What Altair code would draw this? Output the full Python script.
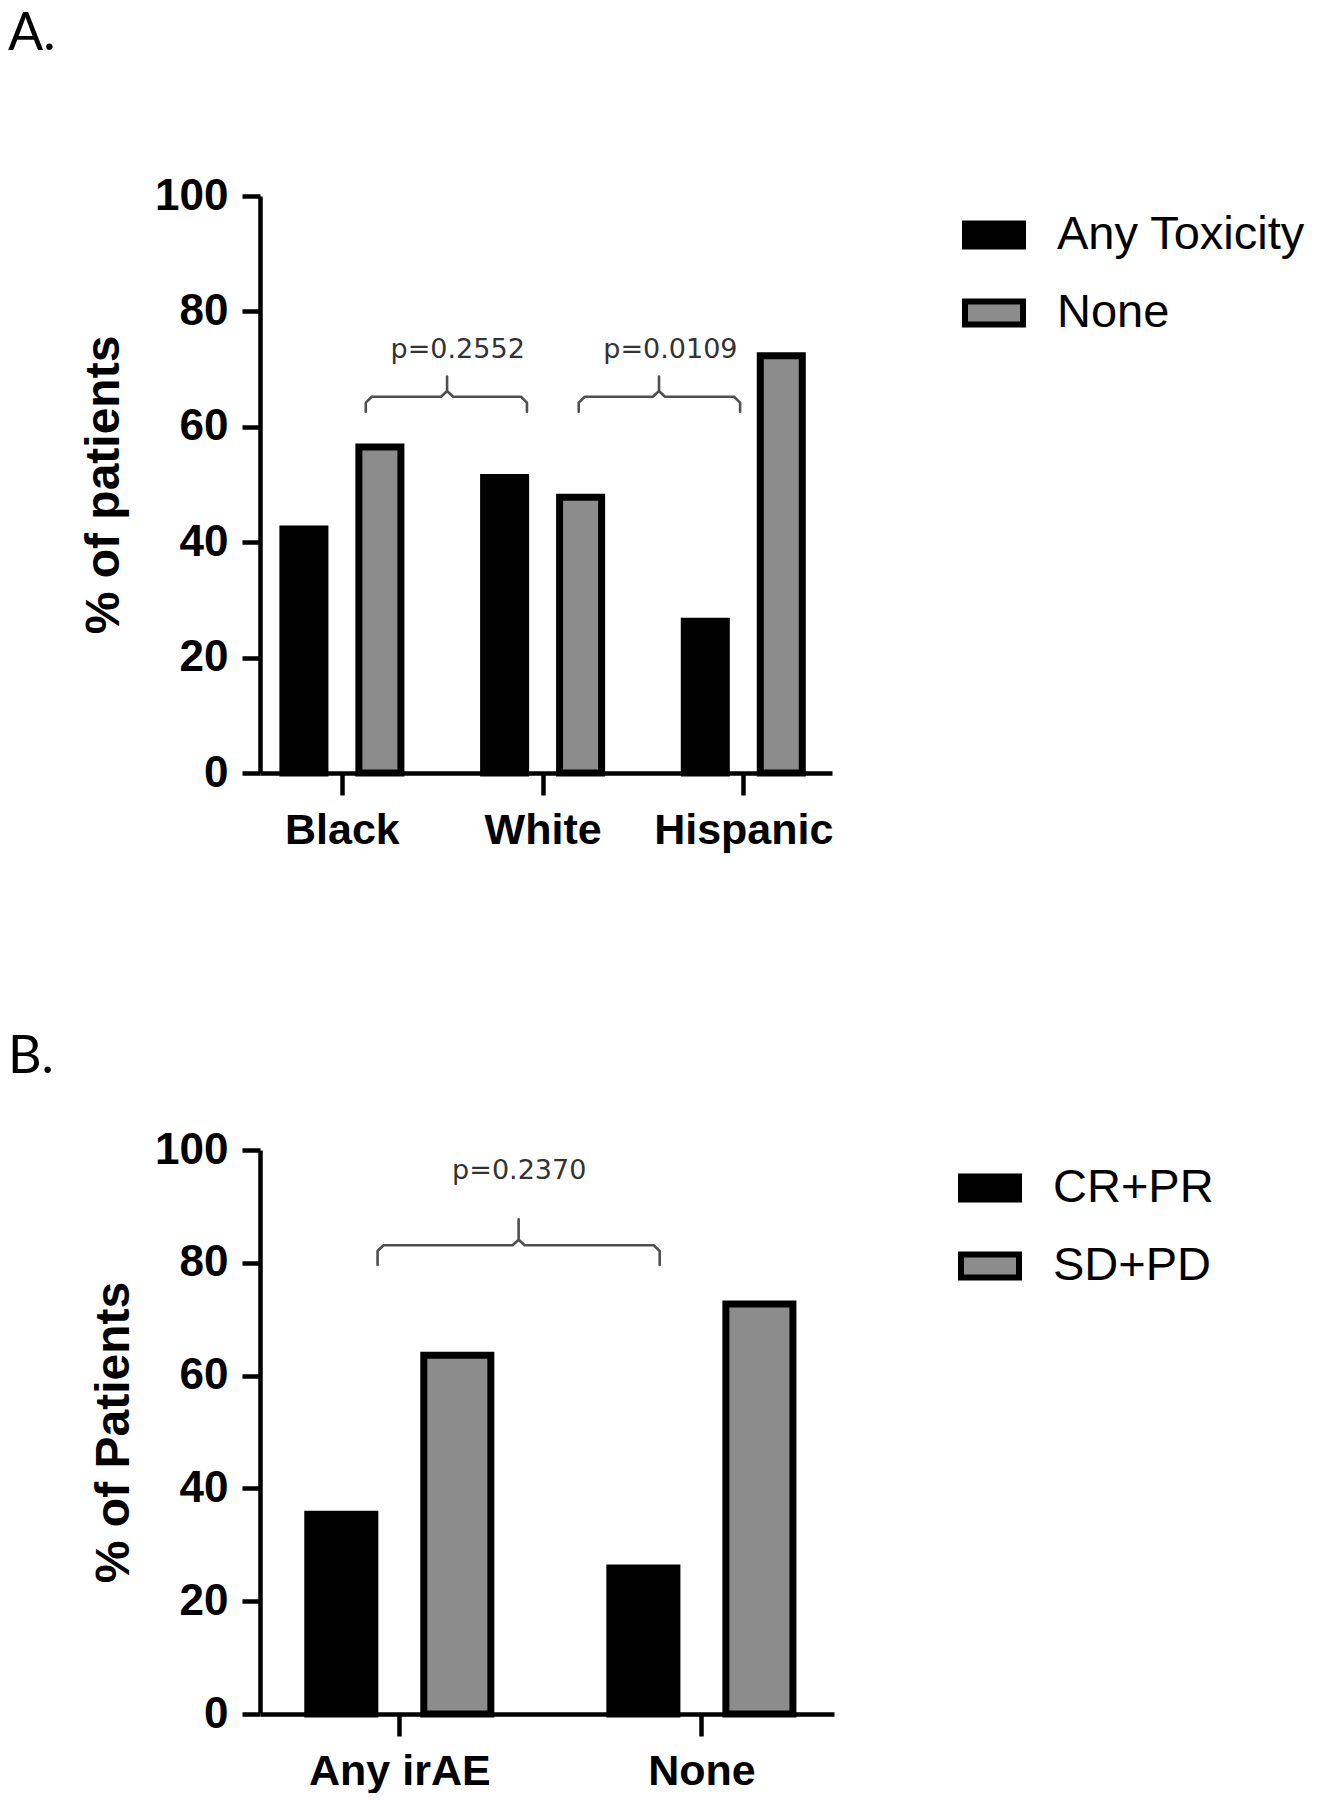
import json
import altair as alt
import pandas as pd

# ---------------- data ----------------
cats_a = ["Black", "White", "Hispanic"]
series_a = ["Any Toxicity", "None"]
tox_a = [42.3, 51.2, 26.3]
none_a = [56.5, 47.8, 72.3]
pvals_a = ["p=0.2552", "p=0.0109"]

cats_b = ["Any irAE", "None"]
series_b = ["CR+PR", "SD+PD"]
resp_b = [35.4, 25.9]
nonresp_b = [63.6, 72.7]
pvals_b = ["p=0.2370"]

# bracket annotations (x in units of category steps from the y axis)
br_a_left = [0.562, 1.623]
br_a_right = [1.365, 2.427]
br_a_center = [0.967, 2.023]
br_a_text_x = [1.02, 2.08]
br_b_left = [0.366]
br_b_right = [1.30]
br_b_center = [0.833]
br_b_text_x = [0.835]

FONT = "Liberation Sans"


def bracket_table(lefts, rights, centers, yh, yend, ytip, rx, ry):
    rows = []
    for k, (l, r, c) in enumerate(zip(lefts, rights, centers)):
        pts = [(l, yend), (l, yh - ry), (l + rx, yh), (c - rx, yh), (c, yh + ry),
               (c, ytip), (c, yh + ry), (c + rx, yh), (r - rx, yh), (r, yh - ry), (r, yend)]
        for i, (x, y) in enumerate(pts):
            rows.append({"bid": k, "ord": i, "bx": x, "by": y})
    return pd.DataFrame(rows)


def panel(letter, cats, series, v1, v2, ytitle, width, height, xdomain,
          pin, pout, offp, lefts, rights, centers, yh, yend, ytip, rx,
          texts, tx, ty, legx, legy, title_offset, title_pad):
    bw = 1 - pin
    sub = bw / (2 - offp)
    barw = sub * (1 - offp)
    rows = []
    for i, (c, a, b) in enumerate(zip(cats, v1, v2)):
        for j, (s, v) in enumerate(zip(series, [a, b])):
            left = pout + i + j * sub
            rows.append({"cat": c, "series": s, "value": v, "x0": left, "x1": left + barw})
    df = pd.DataFrame(rows)
    centers_tick = [pout + i + bw / 2 for i in range(len(cats))]

    xscale = alt.Scale(domain=xdomain, nice=False, zero=False)
    yscale = alt.Scale(domain=[0, 100], nice=False)
    xaxis = alt.Axis(title=None, values=centers_tick, labelAngle=0,
                     labelExpr=json.dumps(cats) + "[floor(datum.value)]",
                     labelFlush=False, labelOverlap=False, labelLimit=500,
                     tickSize=22, tickWidth=4.5, tickColor="black",
                     domainColor="black", domainWidth=4.5,
                     labelFont=FONT, labelFontSize=43, labelFontWeight="bold",
                     labelColor="black", labelPadding=14, grid=False)
    yaxis = alt.Axis(title=ytitle, values=[0, 20, 40, 60, 80, 100],
                     tickSize=18, tickWidth=4.5, tickColor="black",
                     domainColor="black", domainWidth=4.5,
                     labelFont=FONT, labelFontSize=44, labelFontWeight="bold",
                     labelColor="black", labelPadding=14,
                     titleFont=FONT, titleFontSize=48, titleFontWeight="bold",
                     titleColor="black", titlePadding=title_pad, grid=False)

    bars = alt.Chart(df).mark_bar(stroke="black", strokeWidth=7).encode(
        x=alt.X("x0:Q", scale=xscale, axis=xaxis),
        x2="x1:Q",
        y=alt.Y("value:Q", scale=yscale, axis=yaxis),
        y2=alt.datum(0),
        fill=alt.Fill("series:N", sort=series,
                      scale=alt.Scale(domain=series, range=["#000000", "#8c8c8c"]),
                      legend=alt.Legend(title=None, orient="none", legendX=legx, legendY=legy,
                                        symbolType="M-1,-0.4H1V0.4H-1Z", symbolSize=3364,
                                        symbolStrokeColor="black", symbolStrokeWidth=6,
                                        labelFont=FONT, labelFontSize=47, labelColor="black",
                                        labelLimit=0, labelOffset=31, rowPadding=22,
                                        padding=0)),
    )

    bdf = bracket_table(lefts, rights, centers, yh, yend, ytip, rx, 1.0)
    lines = alt.Chart(bdf).mark_line(color="#505050", strokeWidth=2.6, strokeJoin="round",
                                      strokeCap="round").encode(
        x=alt.X("bx:Q", scale=xscale, axis=xaxis),
        y=alt.Y("by:Q", scale=yscale, axis=yaxis),
        detail="bid:N",
        order="ord:Q",
    )
    tdf = pd.DataFrame({"t": texts, "tx": tx, "ty": [ty] * len(texts)})
    labels = alt.Chart(tdf).mark_text(font="DejaVu Sans", fontSize=27, color="#333333",
                                      baseline="middle", align="center").encode(
        x=alt.X("tx:Q", scale=xscale, axis=xaxis),
        y=alt.Y("ty:Q", scale=yscale, axis=yaxis),
        text="t:N",
    )
    return alt.layer(bars, lines, labels).properties(
        width=width, height=height,
        title=alt.TitleParams(letter, anchor="start", frame="group", dx=-252,
                              font="Lato", fontSize=52, fontWeight="normal", color="black",
                              offset=title_offset),
    )


pa = panel("A.", cats_a, series_a, tox_a, none_a, "% of patients", 572, 577,
           [0.0349, 2.885], 0.412, 0.149, 0.447,
           br_a_left, br_a_right, br_a_center, 65.2, 62.6, 68.7, 0.03,
           pvals_a, br_a_text_x, 73.3, 702, 7, 113, 26)
pb = panel("B.", cats_b, series_b, resp_b, nonresp_b, "% of Patients", 574, 564,
           [-0.0232, 1.877], 0.394, 0.135, 0.422,
           br_b_left, br_b_right, br_b_center, 83.1, 79.6, 87.7, 0.02,
           pvals_b, br_b_text_x, 96.2, 698, 6, 44, 16)

chart = alt.concat(pa, pb, columns=1, spacing=179).resolve_scale(
    fill="independent"
).properties(padding=0).configure_view(stroke=None)

chart.save("out.html", embed_options={"renderer": "svg", "actions": False})
